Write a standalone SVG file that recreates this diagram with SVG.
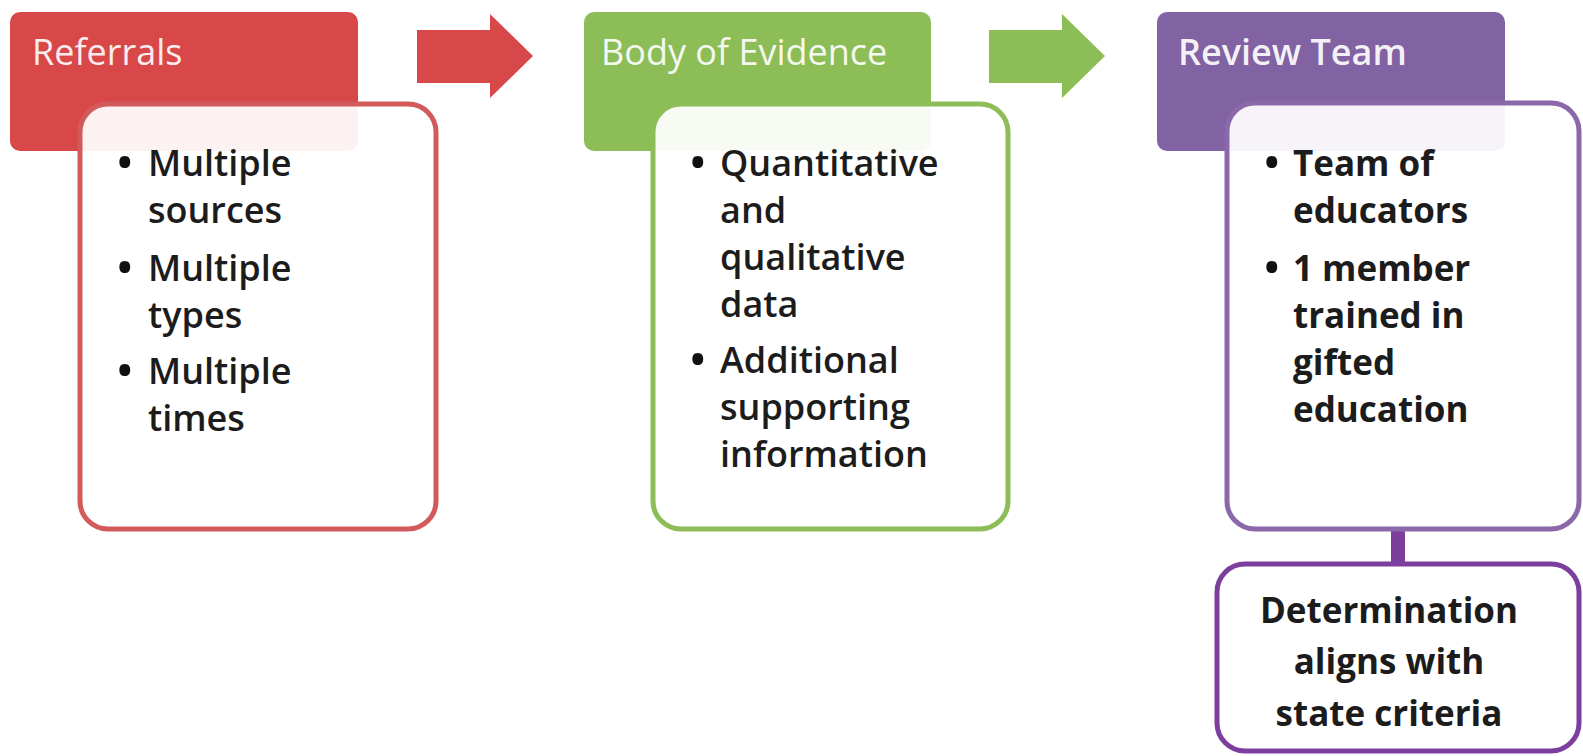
<svg xmlns="http://www.w3.org/2000/svg" width="1583" height="756" viewBox="0 0 1583 756">
<style>
.hdr{font-family:"Open Sans","Liberation Sans",sans-serif;font-size:36px;fill:#ffffff;fill-opacity:0.92}
.txt{font-family:"Open Sans","Liberation Sans",sans-serif;font-size:36px;font-weight:600;fill:#1c1c1c}
.ptxt{font-family:"Open Sans","Liberation Sans",sans-serif;font-size:35px;font-weight:700;fill:#1c1c1c}
.bul{font-family:"Open Sans","Liberation Sans",sans-serif;font-size:52px;fill:#111111}
.body{fill:#ffffff;fill-opacity:0.93;stroke-width:5}
</style>
<rect width="1583" height="756" fill="#ffffff"/>
<g id="connectors">
<polygon points="417,30 490,30 490,14 533,56 490,98 490,83 417,83" fill="#d94848"/>
<polygon points="989,30 1062,30 1062,14 1105,56 1062,98 1062,83 989,83" fill="#8dbd57"/>
<rect x="1391" y="528" width="14" height="37" fill="#7d3f9e"/>
</g>
<g id="referrals">
<rect x="10" y="12" width="348" height="139" rx="10" fill="#d94848"/>
<text class="hdr" x="32" y="65" font-size="37">Referrals</text>
<rect class="body" x="80" y="104" width="356" height="425" rx="28" stroke="#d25a5a"/>
<g class="bul">
<text x="115" y="181">•</text><text x="115" y="286">•</text><text x="115" y="389">•</text>
</g>
<g class="txt">
<text x="148" y="176">Multiple</text>
<text x="148" y="223">sources</text>
<text x="148" y="281">Multiple</text>
<text x="148" y="328">types</text>
<text x="148" y="384">Multiple</text>
<text x="148" y="431">times</text>
</g>
</g>
<g id="body-of-evidence">
<rect x="584" y="12" width="347" height="139" rx="10" fill="#8dbd57"/>
<text class="hdr" x="601" y="65">Body of Evidence</text>
<rect class="body" x="653" y="104" width="355" height="425" rx="28" stroke="#8dbd57"/>
<g class="bul">
<text x="688" y="181">•</text><text x="688" y="378">•</text>
</g>
<g class="txt">
<text x="720" y="176">Quantitative</text>
<text x="720" y="223">and</text>
<text x="720" y="270">qualitative</text>
<text x="720" y="317">data</text>
<text x="720" y="373">Additional</text>
<text x="720" y="420">supporting</text>
<text x="720" y="467">information</text>
</g>
</g>
<g id="review-team">
<rect x="1157" y="12" width="348" height="139" rx="10" fill="#8162a2"/>
<text class="hdr" x="1178" y="65" font-weight="600">Review Team</text>
<rect class="body" x="1227" y="103" width="352" height="426" rx="28" stroke="#8a68aa"/>
<g class="bul">
<text x="1262" y="181">•</text><text x="1262" y="286">•</text>
</g>
<g class="ptxt">
<text x="1293" y="176">Team of</text>
<text x="1293" y="223">educators</text>
<text x="1293" y="281">1 member</text>
<text x="1293" y="328">trained in</text>
<text x="1293" y="375">gifted</text>
<text x="1293" y="422">education</text>
</g>
</g>
<g id="determination">
<rect x="1217" y="564" width="362" height="187" rx="28" fill="#ffffff" stroke="#7d3f9e" stroke-width="5"/>
<g class="ptxt" text-anchor="middle">
<text x="1389" y="623">Determination</text>
<text x="1389" y="674">aligns with</text>
<text x="1389" y="726">state criteria</text>
</g>
</g>
</svg>
